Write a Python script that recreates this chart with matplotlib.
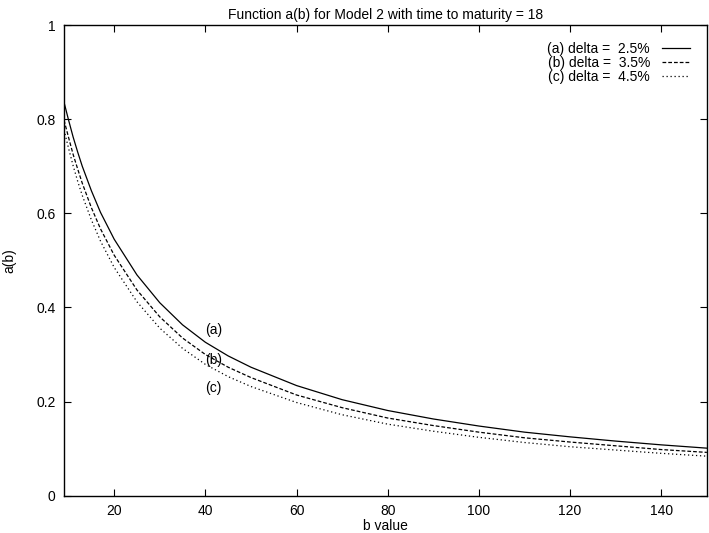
import numpy as np
import matplotlib
matplotlib.use("Agg")
import matplotlib.pyplot as plt

plt.rcParams['font.family'] = ['Liberation Sans', 'DejaVu Sans']
plt.rcParams['font.size'] = 10

##### DATA #####
b_values = [9, 10, 11, 12, 13, 15, 17, 20, 25, 30, 35, 40, 45, 50, 60, 70, 80, 90,
            100, 110, 120, 130, 140, 150]
a_delta_25 = [0.836, 0.798, 0.762, 0.730, 0.700, 0.648, 0.602, 0.545, 0.469, 0.410,
              0.363, 0.326, 0.297, 0.273, 0.234, 0.204, 0.181, 0.163, 0.148, 0.135,
              0.125, 0.116, 0.108, 0.101]
a_delta_35 = [0.798, 0.761, 0.725, 0.694, 0.664, 0.612, 0.567, 0.511, 0.437, 0.380,
              0.335, 0.300, 0.273, 0.251, 0.214, 0.187, 0.165, 0.149, 0.135, 0.123,
              0.114, 0.106, 0.098, 0.092]
a_delta_45 = [0.777, 0.738, 0.701, 0.668, 0.638, 0.586, 0.541, 0.485, 0.412, 0.356,
              0.313, 0.279, 0.253, 0.232, 0.198, 0.172, 0.152, 0.137, 0.124, 0.113,
              0.104, 0.097, 0.090, 0.084]
legend_labels = ['(a) delta =  2.5%', '(b) delta =  3.5%', '(c) delta =  4.5%']
curve_tags = ['(a)', '(b)', '(c)']
tag_pos = [(40, 0.352), (40, 0.288), (40, 0.229)]

fig = plt.figure(figsize=(7.09, 5.33), dpi=100)
ax = fig.add_axes([0.0903, 0.070, 0.9067, 0.883])

ax.plot(b_values, a_delta_25, color='black', lw=0.9, linestyle='-', label=legend_labels[0])
ax.plot(b_values, a_delta_35, color='black', lw=0.9, linestyle=(0, (3.0, 1.6)), label=legend_labels[1])
ax.plot(b_values, a_delta_45, color='black', lw=0.9, linestyle=(0, (1.0, 2.2)), label=legend_labels[2])

for tag, (tx, ty) in zip(curve_tags, tag_pos):
    ax.text(tx, ty, tag, ha='left', va='center')

ax.set_xlim(9, 150)
ax.set_ylim(0, 1)
ax.set_xticks([20, 40, 60, 80, 100, 120, 140])
ax.set_yticks([0, 0.2, 0.4, 0.6, 0.8, 1])
ax.set_yticklabels(['0', '0.2', '0.4', '0.6', '0.8', '1'])
ax.tick_params(direction='in', length=5, width=0.8, top=True, right=True, pad=6)
for s in ax.spines.values():
    s.set_linewidth(1.0)

ax.set_title("Function a(b) for Model 2 with time to maturity = 18", fontsize=10, pad=4)
ax.set_xlabel("b value", labelpad=1)
ax.set_ylabel("a(b)", labelpad=14)

ax.legend(loc='upper right', frameon=False, markerfirst=False, handlelength=2.0,
          handletextpad=0.9, labelspacing=0.0, borderaxespad=0.6, borderpad=0.6)

plt.savefig('out.png', dpi=100)
